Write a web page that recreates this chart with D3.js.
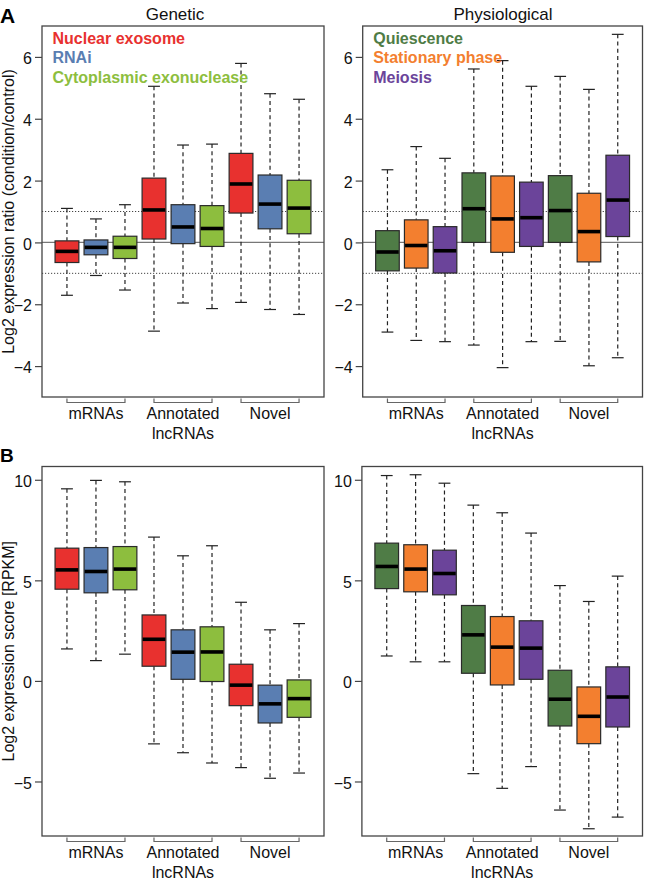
<!DOCTYPE html>
<html>
<head>
<meta charset="utf-8">
<script src="https://cdn.jsdelivr.net/npm/d3@7/dist/d3.min.js"></script>
<style>
  html, body { margin: 0; padding: 0; background: #fff; }
  svg { display: block; font-family: Arial, "Liberation Sans", Helvetica, sans-serif; }
</style>
</head>
<body>
<svg id="chart" width="645" height="879"></svg>
<script>
// ---------- data ----------
const groups = ["mRNAs", "Annotated", "Novel"];
const groupSub = ["", "lncRNAs", ""];
const geneticSeries = ["Nuclear exosome", "RNAi", "Cytoplasmic exonuclease"];
const physioSeries = ["Quiescence", "Stationary phase", "Meiosis"];
const geneticColors = ["#E8312F", "#5A7EB2", "#8DBE3E"];
const physioColors = ["#4F7C46", "#F37F2F", "#6B449A"];

// each row: [lower whisker, Q1, median, Q3, upper whisker] for mRNAs, Annotated lncRNAs, Novel lncRNAs
// Panel A: log2 expression ratio
const ratioNuclear = [[-1.71, -0.65, -0.29, 0.05, 1.10], [-2.87, 0.11, 1.05, 2.08, 5.05], [-1.94, 0.95, 1.89, 2.88, 5.79]];
const ratioRNAi    = [[-1.07, -0.40, -0.16, 0.08, 0.76], [-1.96, -0.04, 0.50, 1.22, 3.15], [-2.17, 0.44, 1.24, 2.18, 4.81]];
const ratioCyto    = [[-1.54, -0.52, -0.16, 0.20, 1.22], [-2.14, -0.13, 0.45, 1.19, 3.18], [-2.33, 0.28, 1.11, 2.01, 4.63]];
const ratioQuiesc  = [[-2.90, -0.92, -0.31, 0.38, 2.35], [-3.32, 0.00, 1.09, 2.25, 5.61], [-3.20, 0.00, 1.03, 2.16, 5.37]];
const ratioStation = [[-3.17, -0.83, -0.10, 0.73, 3.10], [-4.05, -0.32, 0.76, 2.15, 5.88], [-3.99, -0.63, 0.35, 1.59, 4.95]];
const ratioMeiosis = [[-3.21, -0.99, -0.27, 0.51, 2.72], [-3.21, -0.13, 0.80, 1.95, 5.05], [-3.73, 0.19, 1.37, 2.82, 6.73]];
// Panel B: log2 expression score [RPKM]
const scoreNuclear = [[1.59, 4.56, 5.52, 6.60, 9.55], [-3.13, 0.73, 2.07, 3.28, 7.15], [-4.31, -1.23, -0.21, 0.83, 3.91]];
const scoreRNAi    = [[1.01, 4.38, 5.44, 6.63, 9.97], [-3.57, 0.08, 1.43, 2.54, 6.22], [-4.84, -2.09, -1.14, -0.21, 2.54]];
const scoreCyto    = [[1.33, 4.53, 5.56, 6.68, 9.90], [-4.08, -0.03, 1.44, 2.69, 6.72], [-4.58, -1.81, -0.88, 0.05, 2.85]];
const scoreQuiesc  = [[1.24, 4.59, 5.69, 6.85, 10.21], [-4.61, 0.38, 2.29, 3.75, 8.74], [-6.42, -2.24, -0.91, 0.53, 4.74]];
const scoreStation = [[0.95, 4.43, 5.56, 6.77, 10.25], [-5.34, -0.20, 1.68, 3.20, 8.36], [-7.35, -3.12, -1.76, -0.30, 3.95]];
const scoreMeiosis = [[0.95, 4.28, 5.34, 6.50, 9.83], [-4.26, 0.08, 1.63, 2.99, 7.35], [-6.77, -2.29, -0.80, 0.70, 5.21]];

const ratioTicks = [-4, -2, 0, 2, 4, 6];
const scoreTicks = [-5, 0, 5, 10];

// ---------- drawing ----------
const svg = d3.select("#chart");

function panel(opt) {
  const g = svg.append("g");
  const x = d3.scaleLinear().domain([0.14, 9.86]).range([opt.x0, opt.x1]);
  const y = d3.scaleLinear().domain(opt.yDomain).range([opt.y1, opt.y0]);
  const boxW = 0.82 * (x(2) - x(1));

  // reference lines
  (opt.refs || []).forEach(r => {
    g.append("line")
      .attr("x1", opt.x0).attr("x2", opt.x1)
      .attr("y1", y(r.v)).attr("y2", y(r.v))
      .attr("stroke", r.dotted ? "#444" : "#777")
      .attr("stroke-width", r.dotted ? 1 : 1.4)
      .attr("stroke-dasharray", r.dotted ? "1.2,1.8" : null);
  });

  // boxes
  const items = [];
  opt.series.forEach((s, si) => {
    s.forEach((d, gi) => items.push({ pos: 1 + gi * 3 + si, d: d, color: opt.colors[si] }));
  });
  const b = g.selectAll("g.box").data(items).enter().append("g").attr("class", "box");
  // whiskers
  b.append("line")
    .attr("x1", d => x(d.pos)).attr("x2", d => x(d.pos))
    .attr("y1", d => y(d.d[4])).attr("y2", d => y(d.d[3]))
    .attr("stroke", "#222").attr("stroke-width", 1.2).attr("stroke-dasharray", "4,3.2");
  b.append("line")
    .attr("x1", d => x(d.pos)).attr("x2", d => x(d.pos))
    .attr("y1", d => y(d.d[1])).attr("y2", d => y(d.d[0]))
    .attr("stroke", "#222").attr("stroke-width", 1.2).attr("stroke-dasharray", "4,3.2");
  [0, 4].forEach(k => {
    b.append("line")
      .attr("x1", d => x(d.pos) - boxW / 4).attr("x2", d => x(d.pos) + boxW / 4)
      .attr("y1", d => y(d.d[k])).attr("y2", d => y(d.d[k]))
      .attr("stroke", "#222").attr("stroke-width", 1.2);
  });
  b.append("rect")
    .attr("x", d => x(d.pos) - boxW / 2).attr("width", boxW)
    .attr("y", d => y(d.d[3])).attr("height", d => y(d.d[1]) - y(d.d[3]))
    .attr("fill", d => d.color).attr("stroke", "#2a2a2a").attr("stroke-width", 1.2);
  b.append("line")
    .attr("x1", d => x(d.pos) - boxW / 2 + 0.6).attr("x2", d => x(d.pos) + boxW / 2 - 0.6)
    .attr("y1", d => y(d.d[2])).attr("y2", d => y(d.d[2]))
    .attr("stroke", "#000").attr("stroke-width", 3.6);

  // frame
  g.append("rect")
    .attr("x", opt.x0).attr("y", opt.y0)
    .attr("width", opt.x1 - opt.x0).attr("height", opt.y1 - opt.y0)
    .attr("fill", "none").attr("stroke", "#444").attr("stroke-width", 1.3);

  // y axis
  const ax = g.append("g").attr("transform", `translate(${opt.x0},0)`)
    .call(d3.axisLeft(y).tickValues(opt.ticks).tickSize(7).tickPadding(3).tickFormat(d3.format("d")));
  ax.select(".domain").remove();
  ax.selectAll(".tick line").attr("stroke", "#444").attr("stroke-width", 1.2);
  ax.selectAll(".tick text").attr("font-size", 16).attr("fill", "#111")
    .attr("font-family", "Arial, 'Liberation Sans', sans-serif").attr("dy", "0.42em");

  // group brackets + labels
  groups.forEach((name, gi) => {
    const xa = x(1 + gi * 3), xb = x(3 + gi * 3);
    g.append("path")
      .attr("d", `M${xa},${opt.y1 + 1.5}V${opt.y1 + 5.5}H${xb}V${opt.y1 + 1.5}`)
      .attr("fill", "none").attr("stroke", "#666").attr("stroke-width", 1.2);
    g.append("text").attr("x", x(2 + gi * 3)).attr("y", opt.y1 + 21.5)
      .attr("text-anchor", "middle").attr("font-size", 16).attr("fill", "#111").text(name);
    if (groupSub[gi]) {
      g.append("text").attr("x", x(2 + gi * 3)).attr("y", opt.y1 + 41.5)
        .attr("text-anchor", "middle").attr("font-size", 16).attr("fill", "#111").text(groupSub[gi]);
    }
  });

  // legend
  if (opt.legend) {
    opt.legend.forEach((t, i) => {
      g.append("text").attr("x", opt.x0 + 10.5).attr("y", opt.y0 + 17.5 + i * 19.7)
        .attr("font-size", 16).attr("font-weight", "bold").attr("fill", opt.colors[i]).text(t);
    });
  }
  if (opt.title) {
    g.append("text").attr("x", opt.titleX).attr("y", 20)
      .attr("text-anchor", "middle").attr("font-size", 17).attr("fill", "#111").text(opt.title);
  }
  if (opt.ylabel) {
    g.append("text")
      .attr("transform", `translate(14,${(opt.y0 + opt.y1) / 2}) rotate(-90)`)
      .attr("text-anchor", "middle").attr("font-size", 16).attr("fill", "#111").text(opt.ylabel);
  }
}

// Panel A
panel({ x0: 42, x1: 324, y0: 26, y1: 397, yDomain: [-5, 7], ticks: ratioTicks,
  series: [ratioNuclear, ratioRNAi, ratioCyto], colors: geneticColors, legend: geneticSeries,
  title: "Genetic", titleX: 175, ylabel: "Log2 expression ratio (condition/control)",
  refs: [{ v: 1, dotted: true }, { v: -1, dotted: true }, { v: 0, dotted: false }] });
panel({ x0: 362.7, x1: 642.5, y0: 26, y1: 397, yDomain: [-5, 7], ticks: ratioTicks,
  series: [ratioQuiesc, ratioStation, ratioMeiosis], colors: physioColors, legend: physioSeries,
  title: "Physiological", titleX: 503,
  refs: [{ v: 1, dotted: true }, { v: -1, dotted: true }, { v: 0, dotted: false }] });
// Panel B
panel({ x0: 42, x1: 324, y0: 466.5, y1: 836, yDomain: [-7.71, 10.66], ticks: scoreTicks,
  series: [scoreNuclear, scoreRNAi, scoreCyto], colors: geneticColors,
  ylabel: "Log2 expression score [RPKM]" });
panel({ x0: 361.9, x1: 642.5, y0: 466.5, y1: 836, yDomain: [-7.71, 10.66], ticks: scoreTicks,
  series: [scoreQuiesc, scoreStation, scoreMeiosis], colors: physioColors });

// panel letters
svg.append("text").attr("x", 0).attr("y", 23).attr("font-size", 21).attr("font-weight", "bold").text("A");
svg.append("text").attr("x", 0).attr("y", 461.5).attr("font-size", 19).attr("font-weight", "bold").text("B");
</script>
</body>
</html>
